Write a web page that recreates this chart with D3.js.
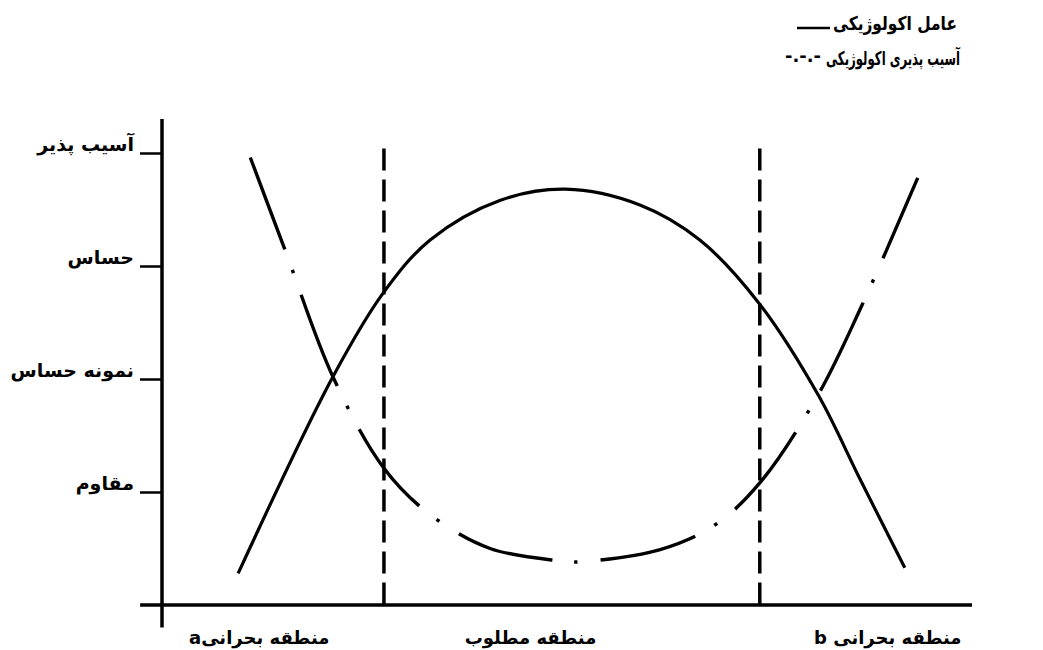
<!DOCTYPE html>
<html>
<head>
<meta charset="utf-8">
<script src="https://cdn.jsdelivr.net/npm/d3@7"></script>
<style>
  body { margin: 0; background: #fff; }
  text { font-family: "DejaVu Sans", sans-serif; font-weight: bold; fill: #000; }
</style>
</head>
<body>
<svg id="chart" width="1043" height="650"></svg>
<script>
// y levels (bottom to top)
const levelLabels = ['مقاوم', 'نمونه حساس', 'حساس', 'آسیب پذیر'];
const levelValues = [1, 2, 3, 4];

// ecological factor (solid bell curve)
const factorX = [9.4, 21.1, 27.3, 33.1, 41.7, 49.8, 59.0, 66.4, 73.6, 81.0, 86.2, 91.7];
const factorY = [0.28, 2.02, 2.76, 3.23, 3.58, 3.68, 3.54, 3.23, 2.68, 1.86, 1.11, 0.33];

// ecological vulnerability (dash-dot U curve)
const vulnX = [10.9, 15.2, 21.1, 27.4, 33.1, 40.5, 49.1, 51.0, 61.5, 68.3, 73.8, 81.0, 86.4, 93.3];
const vulnY = [3.96, 3.14, 2.02, 1.21, 0.80, 0.50, 0.39, 0.38, 0.49, 0.71, 1.08, 1.86, 2.65, 3.78];

// zone boundaries and zone names
const boundaries = [27.4, 73.8];
const zoneLabels = ['منطقه بحرانیa', 'منطقه مطلوب', 'منطقه بحرانی b'];
const zoneLabelAt = [12, 45.5, 89.6];

const legendLabels = ['عامل اکولوژیکی', 'آسیب پذیری اکولوژیکی'];

const svg = d3.select('#chart');

const x = d3.scaleLinear().domain([0, 100]).range([162, 972]);
const y = d3.scaleLinear().domain([0, 4]).range([605, 153]);

// axes lines
svg.append('line')
  .attr('x1', x(0)).attr('x2', x(0))
  .attr('y1', y(4.3)).attr('y2', y(-0.2))
  .attr('stroke', '#000').attr('stroke-width', 3.5);

svg.append('line')
  .attr('x1', x(-2.7)).attr('x2', x(100))
  .attr('y1', y(0)).attr('y2', y(0))
  .attr('stroke', '#000').attr('stroke-width', 3.5);

// y ticks + labels
const yAxis = svg.append('g')
  .attr('transform', `translate(${x(0)},0)`)
  .call(
    d3.axisLeft(y)
      .tickValues(levelValues)
      .tickFormat(d => levelLabels[d - 1])
      .tickSizeInner(22)
      .tickSizeOuter(0)
      .tickPadding(6)
  );
yAxis.select('.domain').remove();
yAxis.selectAll('.tick line').attr('stroke', '#000').attr('stroke-width', 2.5);
yAxis.selectAll('.tick text')
  .attr('font-size', 19)
  .attr('font-family', '"DejaVu Sans", sans-serif')
  .attr('font-weight', 'bold')
  .attr('dy', '-0.15em');

// zone boundaries
svg.selectAll('.boundary')
  .data(boundaries)
  .enter()
  .append('line')
  .attr('class', 'boundary')
  .attr('x1', d => x(d)).attr('x2', d => x(d))
  .attr('y1', y(4.04)).attr('y2', y(0))
  .attr('stroke', '#000')
  .attr('stroke-width', 3.5)
  .attr('stroke-dasharray', '22 9');

const line = d3.line()
  .x(d => x(d[0]))
  .y(d => y(d[1]))
  .curve(d3.curveCatmullRom.alpha(0.5));

svg.append('path')
  .datum(d3.zip(factorX, factorY))
  .attr('d', line)
  .attr('fill', 'none')
  .attr('stroke', '#000')
  .attr('stroke-width', 3.2);

svg.append('path')
  .datum(d3.zip(vulnX, vulnY))
  .attr('d', line)
  .attr('fill', 'none')
  .attr('stroke', '#000')
  .attr('stroke-width', 3.4)
  .attr('stroke-dasharray', '98 22 3.5 23');

// zone labels
svg.selectAll('.zone')
  .data(zoneLabels)
  .enter()
  .append('text')
  .attr('class', 'zone')
  .attr('direction', 'rtl')
  .attr('x', (d, i) => x(zoneLabelAt[i]))
  .attr('y', 644)
  .attr('text-anchor', 'middle')
  .attr('font-size', 18)
  .text(d => d);

// legend
const legend = svg.append('g').attr('class', 'legend');

const w1 = 124;
legend.append('text')
  .attr('direction', 'rtl')
  .attr('x', 957).attr('y', 30)
  .attr('text-anchor', 'start')
  .attr('font-size', 19)
  .attr('textLength', w1)
  .attr('lengthAdjust', 'spacingAndGlyphs')
  .text(legendLabels[0]);

legend.append('line')
  .attr('x1', 957 - w1 - 36).attr('x2', 957 - w1 - 3)
  .attr('y1', 28).attr('y2', 28)
  .attr('stroke', '#000').attr('stroke-width', 2.5);

const w2 = 134;
legend.append('text')
  .attr('direction', 'rtl')
  .attr('x', 960).attr('y', 65)
  .attr('text-anchor', 'start')
  .attr('font-size', 19)
  .attr('textLength', w2)
  .attr('lengthAdjust', 'spacingAndGlyphs')
  .text(legendLabels[1]);

legend.append('text')
  .attr('x', 960 - w2 - 5).attr('y', 62)
  .attr('text-anchor', 'end')
  .attr('font-size', 18)
  .text('-.-.-');
</script>
</body>
</html>
